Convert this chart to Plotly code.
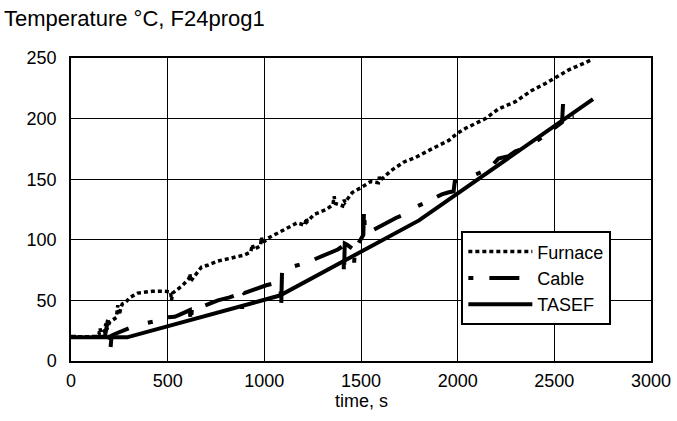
import plotly.graph_objects as go

# Furnace temperature (noisy measurement)
furnace_t = [0, 130, 145, 150, 155, 175, 180, 185, 200, 220, 235, 242, 250, 258, 265, 280,
             305, 345, 420, 485, 515, 520, 525, 550, 578, 610, 615, 620, 640, 675, 706, 760,
             830, 897, 930, 938, 945, 980, 985, 990, 1015, 1050, 1100, 1170, 1210, 1216, 1222,
             1258, 1320, 1355, 1361, 1367, 1405, 1412, 1418, 1455, 1500, 1550, 1590, 1595, 1600,
             1655, 1720, 1783, 1866, 1954, 1995, 2041, 2144, 2211, 2299, 2381, 2454, 2505, 2572, 2700]
furnace_v = [20, 20, 22, 27, 23, 25, 31, 26, 32, 34, 36, 46, 38, 44, 47, 48,
             52.5, 56, 57.5, 57.5, 57, 50, 56, 59, 62.5, 68, 72, 66, 70, 77.5, 79, 82.5,
             85, 87.5, 90, 96, 92, 95, 102, 97, 101, 104, 108, 114, 112, 118, 115,
             121, 125, 129, 136, 130, 128, 133, 131, 139, 143, 148, 147, 152, 149,
             157, 164, 168, 175, 182, 187.5, 192, 200, 208, 214, 223, 229, 234, 240, 249]

# Cable temperature (measured)
cable_t = [0, 175, 190, 197, 203, 210, 230, 300, 380, 440, 495, 536, 560, 615, 620, 625, 630,
           700, 760, 820, 880, 885, 890, 895, 960, 1010, 1050, 1083, 1087, 1092, 1100, 1150,
           1216, 1260, 1309, 1380, 1408, 1412, 1416, 1428, 1460, 1464, 1468, 1500, 1512, 1516,
           1520, 1551, 1620, 1680, 1740, 1789, 1850, 1918, 1950, 1979, 1985, 2050, 2124, 2170,
           2211, 2263, 2299, 2366, 2450, 2540, 2545, 2550, 2600]
cable_v = [20, 20, 33, 36, 8, 21, 22.5, 27, 31, 33, 36, 36.5, 38, 42, 29, 43, 42,
           46, 50, 52.5, 56, 43, 57, 56, 60, 62.5, 64, 66, 44, 77, 75, 78,
           81, 84, 87.5, 92, 95, 71, 97, 96, 92, 79, 92, 100, 104, 127,
           107, 107, 113, 118, 122, 127.5, 132, 137.5, 139, 140, 148, 151, 156, 160,
           167, 169, 173, 177, 186, 197, 212, 201, 202]

# TASEF calculation
tasef_t = [0, 290, 1080, 1800, 2700]
tasef_v = [19.5, 19.5, 54, 116, 216]

FONT = "Liberation Sans, Arial, sans-serif"

fig = go.Figure()
fig.add_trace(go.Scatter(x=furnace_t, y=furnace_v, mode="lines", name="Furnace",
                         line=dict(color="black", width=3.5, dash="4px,3px")))
fig.add_trace(go.Scatter(x=cable_t, y=cable_v, mode="lines", name="Cable",
                         line=dict(color="black", width=4, dash="5px,16px,30px,20px")))
fig.add_trace(go.Scatter(x=tasef_t, y=tasef_v, mode="lines", name="TASEF",
                         line=dict(color="black", width=4)))

fig.update_layout(
    width=677, height=421,
    margin=dict(l=71, r=26, t=58, b=60, autoexpand=False),
    paper_bgcolor="white", plot_bgcolor="white",
    font=dict(family=FONT, size=18, color="black"),
    title=dict(text="Temperature °C, F24prog1", font=dict(size=22, color="black"),
               xref="container", x=0, xanchor="left", pad=dict(l=4),
               yref="container", y=0.957, yanchor="middle"),
    legend=dict(x=0.673, y=0.428, xanchor="left", yanchor="top",
                bgcolor="white", bordercolor="black", borderwidth=2,
                font=dict(size=18), itemwidth=64, tracegroupgap=0),
)
# x-axis title placed as an annotation so it can sit closer to the tick labels
fig.add_annotation(text="time, s", xref="paper", yref="paper", x=0.5, y=0,
                   xanchor="center", yanchor="top", yshift=-28, showarrow=False,
                   font=dict(size=18, color="black"))
fig.update_xaxes(range=[0, 3000], dtick=500, showgrid=True, gridcolor="black", gridwidth=1,
                 zeroline=False, showline=True, linecolor="black", linewidth=1.5, mirror=True,
                 ticks="", ticklabelstandoff=3, automargin=False)
fig.update_yaxes(range=[0, 250], dtick=50, showgrid=True, gridcolor="black", gridwidth=1,
                 zeroline=False, showline=True, linecolor="black", linewidth=1.5, mirror=True,
                 ticks="", ticklabelstandoff=9, automargin=False)

fig.write_html("out.html", config={"displayModeBar": False},
               post_script="document.body.style.margin='0';")
